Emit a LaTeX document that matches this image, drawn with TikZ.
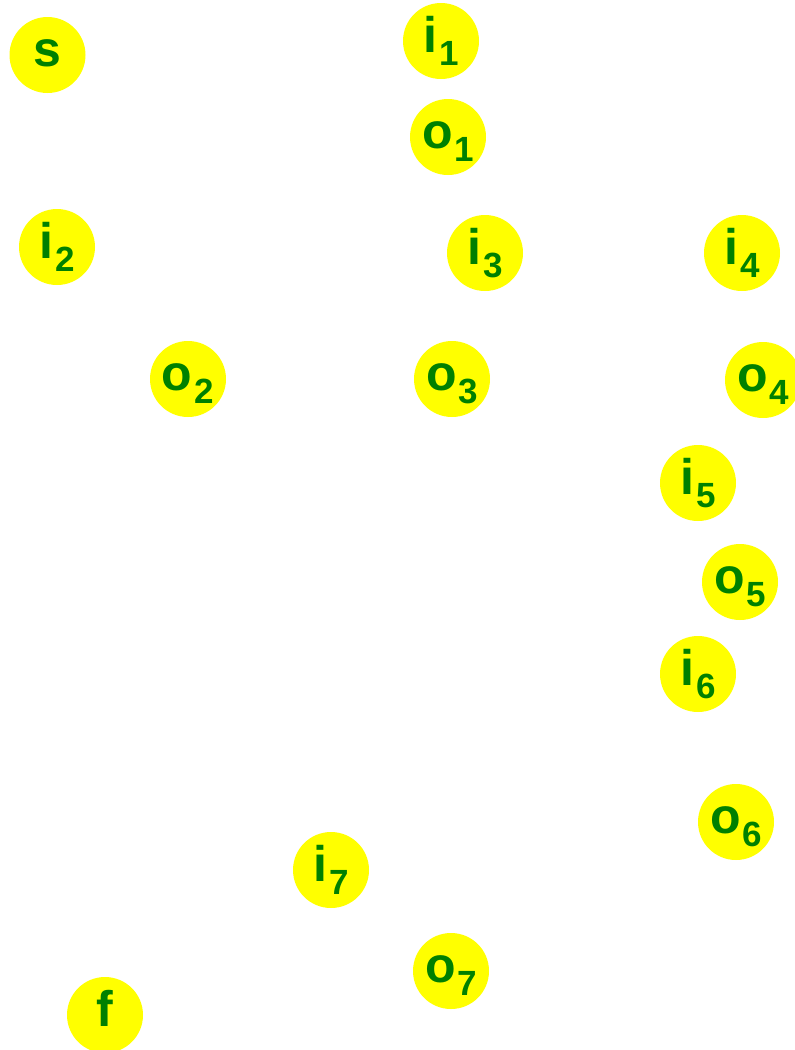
\documentclass[tikz,border=0pt]{standalone}
\usepackage{fontspec}
\setmainfont{Liberation Sans}
\usetikzlibrary{positioning}
\definecolor{dotyellow}{RGB}{255,255,0}
\definecolor{dotgreen}{RGB}{0,128,0}
\newcommand{\nlab}[2]{#1\kern2pt\raisebox{-13pt}{\fontsize{35}{35}\selectfont #2}}

\begin{document}
\begin{tikzpicture}[
    x=1pt, y=-1pt,
    dot/.style={circle, fill=dotyellow, minimum size=76pt, inner sep=0pt, text=dotgreen,
        font=\fontsize{50}{50}\selectfont\bfseries, text height=31pt, text depth=9pt, align=center}
]
\useasboundingbox (0,0) rectangle (795,1050);
\node[dot] (s) at (47.5,55) {s};
\node[dot] (i1) at (441,41) {\nlab{i}{1}};
\node[dot] (o1) at (448,137) {\nlab{o}{1}};
\node[dot] (i2) at (57,247) {\nlab{i}{2}};
\node[dot] (i3) at (485,253) {\nlab{i}{3}};
\node[dot] (i4) at (742,253) {\nlab{i}{4}};
\node[dot] (o2) at (188,379) {\nlab{o}{2}};
\node[dot] (o3) at (452,379) {\nlab{o}{3}};
\node[dot] (o4) at (763,380) {\nlab{o}{4}};
\node[dot] (i5) at (698,483) {\nlab{i}{5}};
\node[dot] (o5) at (740,582) {\nlab{o}{5}};
\node[dot] (i6) at (698,674) {\nlab{i}{6}};
\node[dot] (o6) at (736,822) {\nlab{o}{6}};
\node[dot] (i7) at (331,870) {\nlab{i}{7}};
\node[dot] (o7) at (451,971) {\nlab{o}{7}};
\node[dot] (f) at (105,1015) {f};
\end{tikzpicture}
\end{document}
